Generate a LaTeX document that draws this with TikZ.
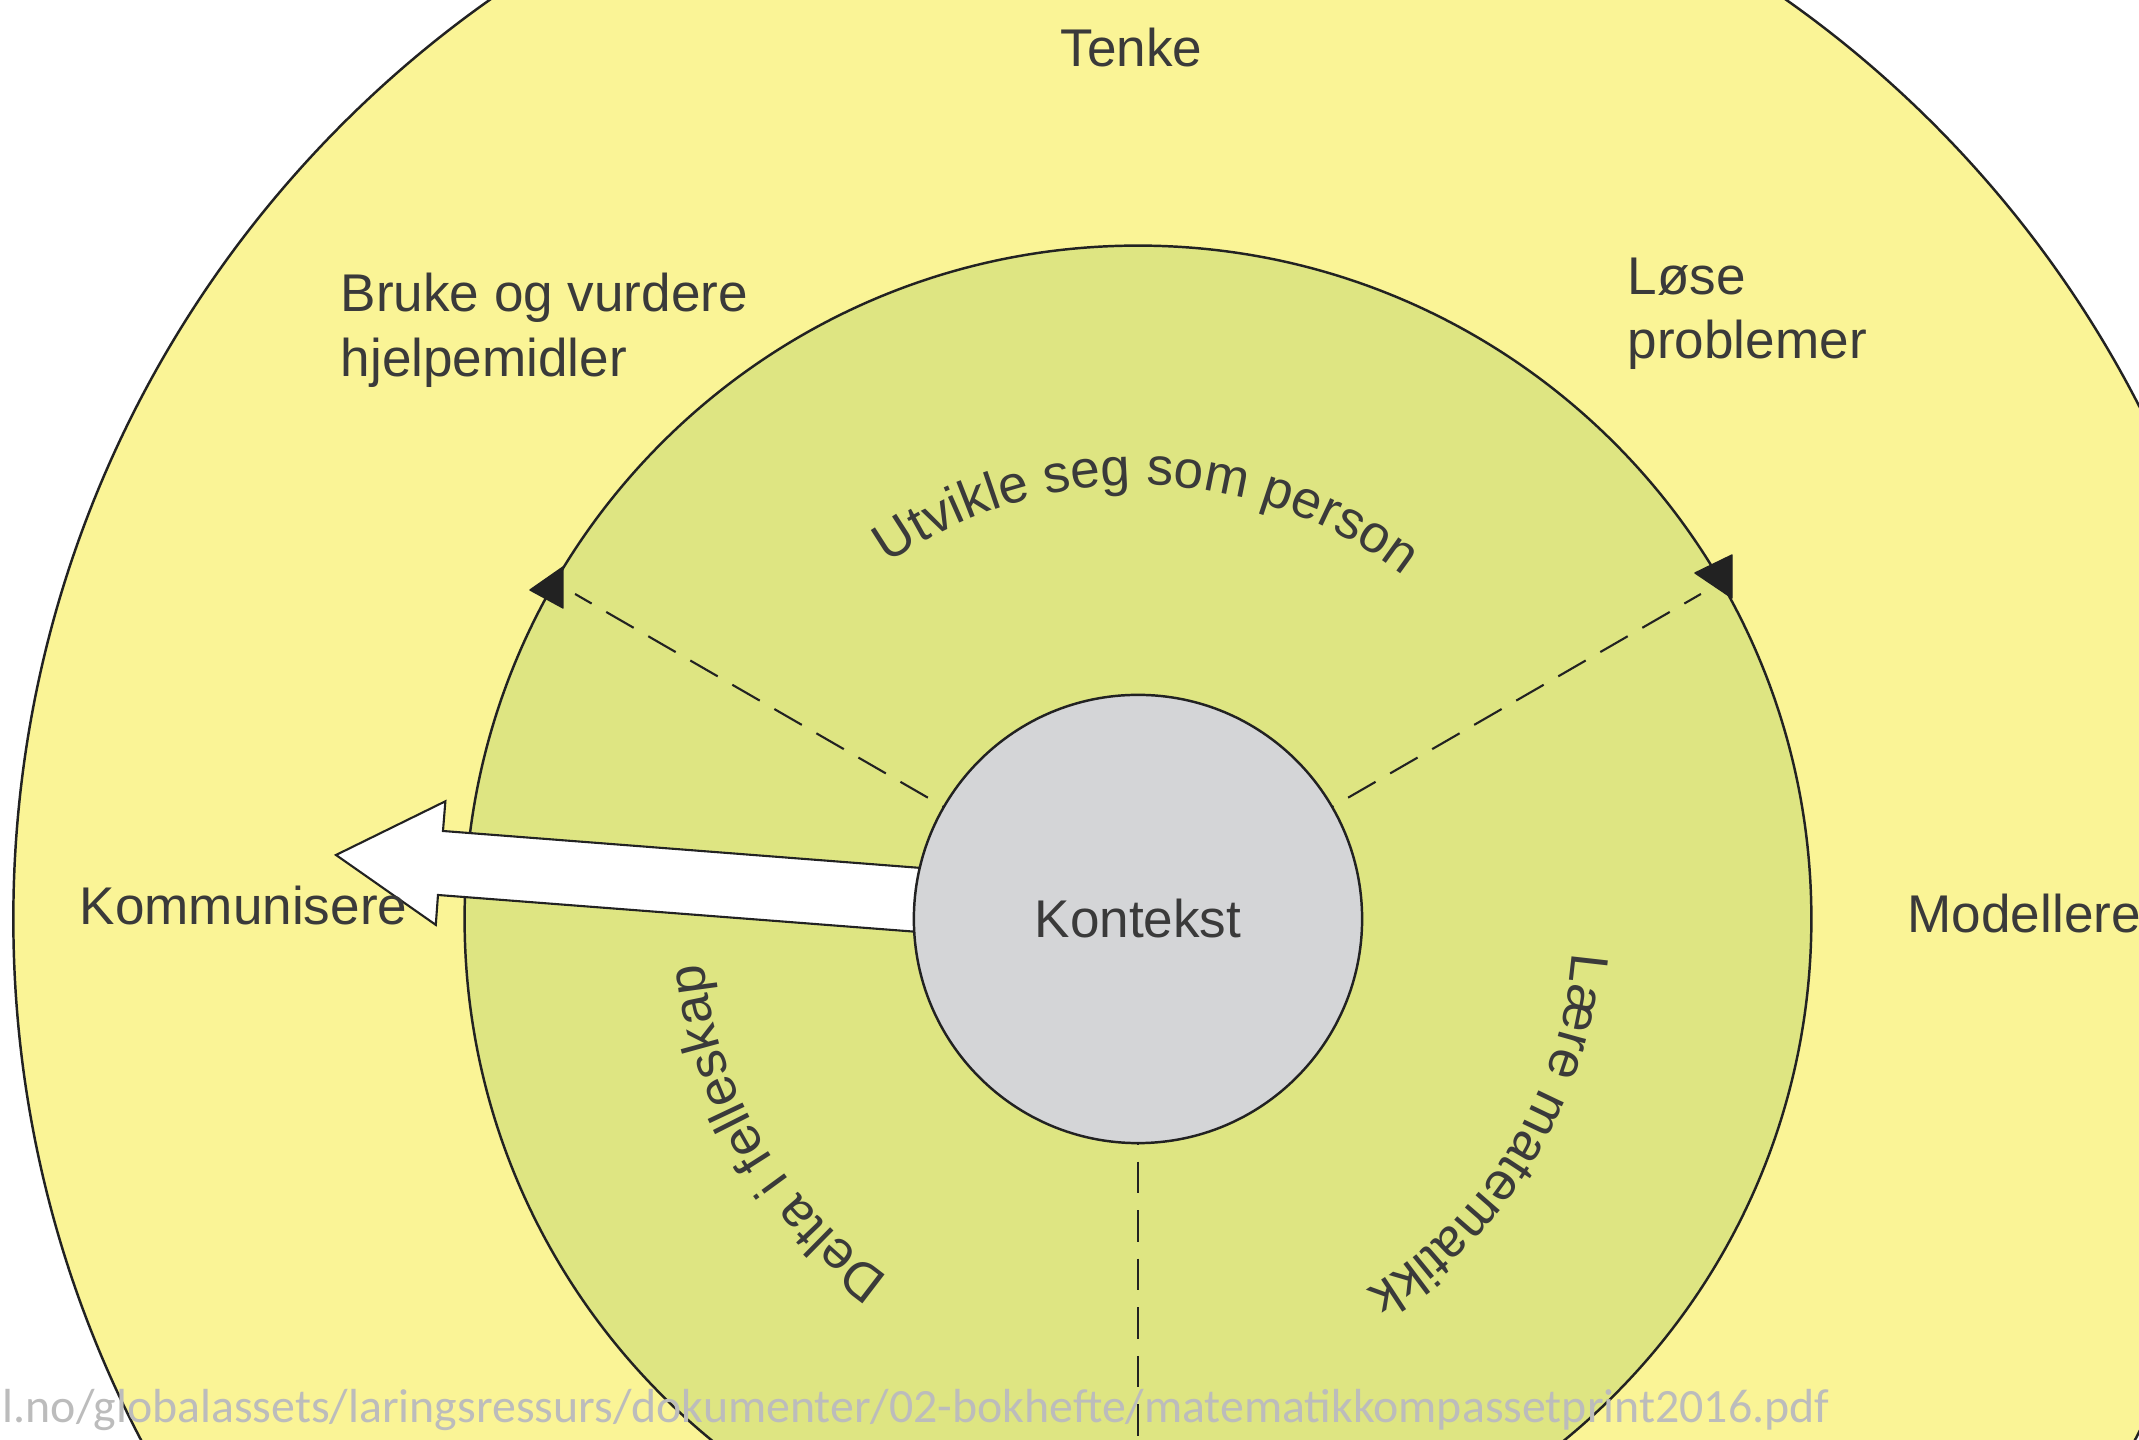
\documentclass[tikz,border=0pt]{standalone}
\usepackage{fontspec}
\setmainfont{Liberation Sans}
\newfontfamily\urlfont{Carlito}
\usetikzlibrary{decorations.text}

\definecolor{ringouter}{HTML}{FAF496}
\definecolor{ringmid}{HTML}{DEE582}
\definecolor{core}{HTML}{D4D5D7}
\definecolor{ink}{HTML}{3A3A3A}
\definecolor{edge}{HTML}{222222}
\definecolor{urlgray}{HTML}{BCBCBC}

\newcommand{\lblfont}{\fontsize{15.1}{18}\selectfont}

\begin{document}
\begin{tikzpicture}[x=0.01cm, y=0.01cm,
  ring/.style={circle, draw=edge, line width=0.7pt, inner sep=0pt, outer sep=0pt},
  lbl/.style={font=\lblfont, text=ink, inner sep=0pt, anchor=base west},
  spoke/.style={draw=edge, line width=0.6pt, dash pattern=on 9pt off 4.8pt},
  tri/.style={fill=edge, draw=edge, line width=0.4pt, line join=round},
  bigarrow/.style={fill=white, draw=edge, line width=0.6pt, line join=miter},
]
\useasboundingbox (-1138,-521) rectangle (1001,919);
\clip (-1138,-521) rectangle (1001,919);
\fill[white] (-1138,-521) rectangle (1001,919);

% the three rings
\node[ring, fill=ringouter, minimum size=22.48cm] (outer) at (0,0) {};
\node[ring, fill=ringmid, minimum size=13.46cm] (mid) at (0,0) {};

% spoke end points
\coordinate (sL) at (150:650);
\coordinate (sR) at (30:650);
\coordinate (sB) at (270:700);

% dashed spokes (drawn under the core)
\draw[spoke] (0,0) -- (sL);
\draw[spoke] (0,0) -- (sR);
\draw[spoke] (0,0) -- (sB);

% arrow heads on the middle ring
\fill[tri] (-575,352) -- (-575,311) -- (-608,329) -- cycle;
\fill[tri] (594,364) -- (594,321) -- (557,346) -- cycle;

% the wide white arrow pointing to "Kommunisere"
\draw[bigarrow] (-189.5,48.9) -- (-695,88) -- (-692.6,117.7) -- (-802,64)
  -- (-702.2,-5.9) -- (-700,24) -- (-194.5,-14.9) -- cycle;

% core
\node[ring, fill=core, minimum size=4.48cm, font=\lblfont, text=ink] (core) at (0,0) {Kontekst};

% outer labels
\node[lbl, anchor=base] (tenke) at (-6.5,852) {Tenke};
\node[lbl] (bruke) at (-798,607) {Bruke og vurdere};
\node[lbl] (bruke2) at (-798,542) {hjelpemidler};
\node[lbl] (lose) at (489,624) {Løse};
\node[lbl] (lose2) at (489,560) {problemer};
\node[lbl] (komm) at (-1059,-6) {Kommunisere};
\node[lbl] (model) at (769,-14) {Modellere};

% curved labels in the middle ring
\path[decorate, decoration={text along path, text align=center,
  text={|\lblfont\color{ink}|Utvikle seg som person}}]
  (148.75:434) arc[start angle=148.75, end angle=28.75, radius=434];
\path[decorate, decoration={text along path, text align=center,
  text={|\lblfont\color{ink}|Lære matematikk}}]
  (28.6:436) arc[start angle=28.6, end angle=-91.4, radius=436];
\path[decorate, decoration={text along path, text align=center,
  text={|\lblfont\color{ink}|Delta i felleskap}}]
  (270.5:436) arc[start angle=270.5, end angle=150.5, radius=436];

% source line at the bottom
\node[anchor=base west, inner sep=0pt, text=urlgray, font=\urlfont\fontsize{13.6}{16}\selectfont] (src) at (-1136,-504)
  {l.no/globalassets/laringsressurs/dokumenter/02-bokhefte/matematikkompassetprint2016.pdf};
\end{tikzpicture}
\end{document}
